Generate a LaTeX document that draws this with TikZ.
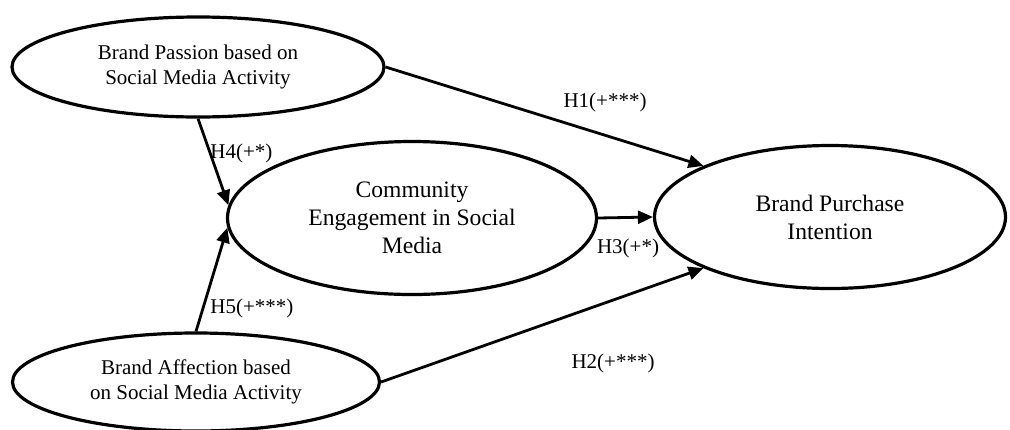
\documentclass[tikz,border=0pt]{standalone}
\usepackage{fontspec}
\setmainfont{Liberation Serif}
\usetikzlibrary{arrows.meta}
\usetikzlibrary{shapes.geometric}

\tikzset{
  construct/.style={draw,ellipse,line width=1.6pt,align=center,inner sep=0pt,
    font=\fontsize{10.5}{12.5}\selectfont},
  bigconstruct/.style={construct,font=\fontsize{11.8}{14}\selectfont},
  path/.style={line width=1.4pt,-{Triangle[length=7.5pt,width=6.5pt]}},
  hyp/.style={inner sep=0pt,font=\fontsize{10.5}{12.5}\selectfont}
}

\begin{document}
\begin{tikzpicture}[x=0.5pt,y=-0.5pt]
\useasboundingbox (0,0) rectangle (1010,429);

\node [construct,minimum width=186pt,minimum height=50pt] (passion) at (198,67)
  {Brand Passion based on\\Social Media Activity};
\node [bigconstruct,minimum width=184.5pt,minimum height=76.5pt] (community) at (412,218)
  {Community\\Engagement in Social\\Media};
\node [bigconstruct,minimum width=175.5pt,minimum height=71.5pt] (purchase) at (830,217)
  {Brand Purchase\\Intention};
\node [construct,minimum width=183.5pt,minimum height=49pt] (affection) at (196,382)
  {Brand Affection based\\on Social Media Activity};

\draw [path] (passion.east) -- (purchase.158);
\draw [path] (passion.south) -- (community.176);
\draw [path] (affection.north) -- (community.183);
\draw [path] (community.east) -- (purchase.west);
\draw [path] (affection.east) -- (purchase.202);

\node [hyp] (h1) at (605,102) {H1(+***)};
\node [hyp,anchor=west] (h4) at (210,153) {H4(+*)};
\node [hyp,anchor=west] (h5) at (210,308) {H5(+***)};
\node [hyp] (h3) at (628,248) {H3(+*)};
\node [hyp] (h2) at (613,363) {H2(+***)};
\end{tikzpicture}
\end{document}
